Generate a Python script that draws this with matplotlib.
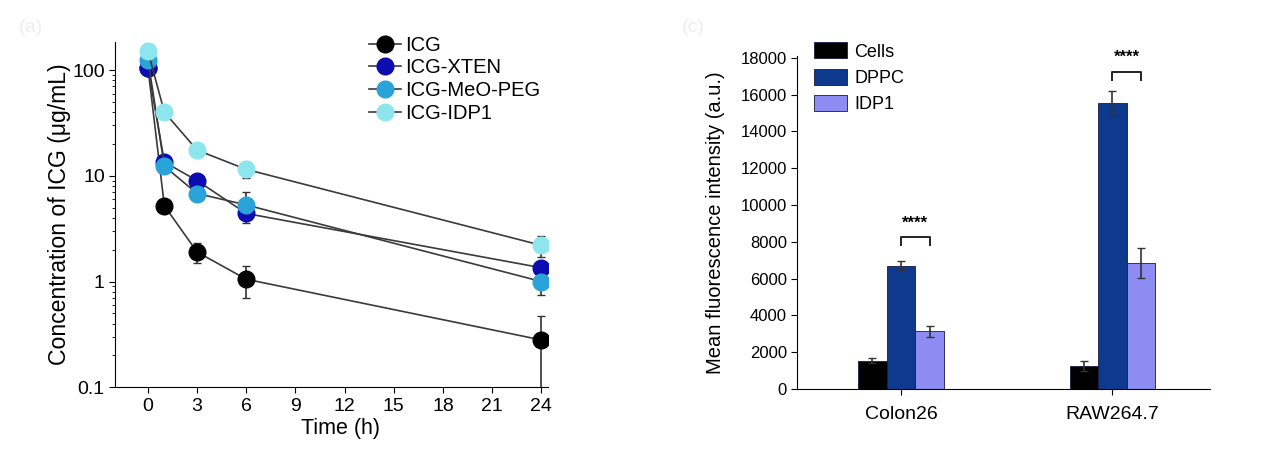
import matplotlib.pyplot as plt
from matplotlib.lines import Line2D
import numpy as np

plt.rcParams['font.family'] = ['Liberation Sans', 'DejaVu Sans']

# pharmacokinetics panel
times = [0, 1, 3, 6, 24]
pk_names = ['ICG', 'ICG-XTEN', 'ICG-MeO-PEG', 'ICG-IDP1']
icg = [105, 5.2, 1.9, 1.05, 0.28]
icg_err = [12, 0.7, 0.4, 0.35, 0.19]
xten = [105, 13.5, 9.0, 4.4, 1.35]
xten_err = [10, 1.2, 0.8, 0.5, 0.15]
peg = [125, 12.3, 6.8, 5.3, 1.0]
peg_err = [15, 1.5, 1.0, 1.7, 0.25]
idp1 = [150, 40, 17.5, 11.5, 2.2]
idp1_err = [25, 4, 2, 2, 0.5]
pk_colors = ['#000000', '#0c0cb0', '#2aa3d8', '#8de6ee']

# cellular uptake panel
cell_lines = ['Colon26', 'RAW264.7']
bar_names = ['Cells', 'DPPC', 'IDP1']
cells = [1550, 1250]
cells_err = [150, 250]
dppc = [6700, 15550]
dppc_err = [250, 650]
idp1_bar = [3150, 6850]
idp1_bar_err = [300, 800]
bar_colors = ['#000000', '#0e3a8e', '#8c8cf2']

fig = plt.figure(figsize=(12.8, 4.55), dpi=100)

ax1 = fig.add_axes([0.090, 0.149, 0.338, 0.759])
handles = []
for y, e, c, n in zip([icg, xten, peg, idp1], [icg_err, xten_err, peg_err, idp1_err],
                      pk_colors, pk_names):
    ax1.errorbar(times, y, yerr=e, color='#3a3a3a', lw=1.2, marker='o', ms=12,
                 mfc=c, mec=c, ecolor='#333333', elinewidth=1.2, capsize=3)
    handles.append(Line2D([], [], color='#3a3a3a', lw=1.2, marker='o', ms=12,
                          mfc=c, mec=c, label=n))
ax1.set_yscale('log')
ax1.set_ylim(0.1, 185)
ax1.set_xlim(-2, 24.4)
ax1.set_xticks(np.arange(0, 25, 3))
ax1.set_yticks([0.1, 1, 10, 100])
ax1.set_yticklabels(['0.1', '1', '10', '100'])
ax1.spines['top'].set_visible(False)
ax1.spines['right'].set_visible(False)
ax1.tick_params(labelsize=14, direction='out', length=4)
ax1.tick_params(which='minor', length=2)
ax1.set_xlabel('Time (h)', fontsize=15.5, labelpad=3)
ax1.xaxis.set_label_coords(0.52, -0.09)
ax1.set_ylabel('Concentration of ICG (μg/mL)', fontsize=16.6, labelpad=1)
ax1.legend(handles=handles, loc='upper left', bbox_to_anchor=(0.544, 1.07), frameon=False,
           fontsize=14.5, handlelength=1.6, handletextpad=0.2, labelspacing=0.18)

ax2 = fig.add_axes([0.623, 0.145, 0.322, 0.732])
x = np.arange(len(cell_lines))
w = 0.135
for i, (v, e, c, n) in enumerate(zip([cells, dppc, idp1_bar], [cells_err, dppc_err, idp1_bar_err],
                                      bar_colors, bar_names)):
    ax2.bar(x + (i - 1) * w, v, w, yerr=e, color=c, edgecolor='#1a1a40', lw=0.6,
            error_kw=dict(ecolor='#333333', elinewidth=1.2, capsize=3), label=n)
# significance brackets between DPPC and IDP1
for xi, yb in zip(x, [8250, 17250]):
    ax2.plot([xi, xi, xi + w, xi + w], [yb - 450, yb, yb, yb - 450], color='#222222', lw=1.4)
    ax2.text(xi + w / 2, yb + 350, '****', ha='center', va='bottom', fontsize=12, fontweight='bold')
ax2.set_xlim(-0.49, 1.46)
ax2.set_ylim(0, 18100)
ax2.set_yticks(np.arange(0, 18001, 2000))
ax2.set_xticks(x)
ax2.set_xticklabels(cell_lines)
ax2.spines['top'].set_visible(False)
ax2.spines['right'].set_visible(False)
ax2.tick_params(direction='out', length=4)
ax2.tick_params(axis='y', labelsize=12)
ax2.tick_params(axis='x', labelsize=14, pad=8)
ax2.set_ylabel('Mean fluorescence intensity (a.u.)', fontsize=14.5, labelpad=11)
ax2.legend(loc='upper left', bbox_to_anchor=(0.0, 1.09), frameon=False, fontsize=13,
           handlelength=1.85, handleheight=1.0, handletextpad=0.4, labelspacing=0.45)

fig.text(0.015, 0.93, '(a)', fontsize=14, color='#eeeeee')
fig.text(0.533, 0.93, '(c)', fontsize=14, color='#eeeeee')

fig.savefig('out.png', dpi=100, facecolor='white')
